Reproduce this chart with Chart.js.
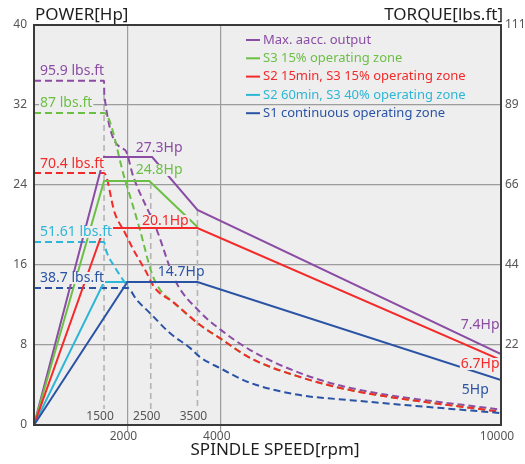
<!DOCTYPE html>
<html>
<head>
<meta charset="utf-8">
<script src="https://cdn.jsdelivr.net/npm/chart.js@4"></script>
<style>
  html, body { margin: 0; padding: 0; background: #fff; }
  #wrap { width: 525px; height: 464px; }
</style>
</head>
<body>
<div id="wrap"><canvas id="chartCanvas" width="525" height="464"></canvas></div>
<script>
// power curves (Hp over rpm)
const maxRpm = [0, 1500, 2530, 3500, 10000];
const maxHp  = [0, 26.8, 26.8, 21.5, 7.1];
const s3Rpm  = [0, 1500, 2470, 3500];
const s3Hp   = [0, 24.4, 24.4, 19.8];
const s2Rpm  = [0, 1500, 3500, 10000];
const s2Hp   = [0, 19.7, 19.7, 6.5];
const s60Rpm = [0, 1500, 2000];
const s60Hp  = [0, 14.3, 14.3];
const s1Rpm  = [0, 2000, 3500, 10000];
const s1Hp   = [0, 14.3, 14.3, 4.5];

// torque curves (lbs.ft over rpm)
const maxTqRpm = [0, 1500, 1505, 1950, 2130, 2630, 3020, 3550, 3980, 4630, 5700, 6770, 10000];
const maxTq    = [95.5, 95.5, 91.6, 76.3, 68.8, 54.1, 40.2, 31.4, 26.6, 20.8, 14.4, 10.3, 4.2];
const s3TqRpm  = [0, 1500, 1950, 2270, 2520, 2700, 2980, 3550, 3980, 4630, 5700, 6770, 10000];
const s3Tq     = [86.6, 86.6, 68.0, 54.1, 42.2, 37.5, 34.1, 27.8, 24.1, 18.6, 13.3, 9.7, 3.6];
const s2TqRpm  = [0, 1500, 1730, 1950, 2130, 2380, 2590, 2980, 3550, 3980, 4630, 5700, 6770, 10000];
const s2Tq     = [69.9, 69.9, 58.8, 53.3, 48.6, 43.0, 38.0, 34.1, 27.8, 24.1, 18.6, 13.3, 9.7, 3.6];
const s60TqRpm = [0, 1500, 1540, 1730, 1910, 2020];
const s60Tq    = [50.8, 50.8, 48.6, 43.8, 40.2, 38.0];
const s1TqRpm  = [0, 2000, 2200, 2480, 2910, 3340, 3550, 3980, 4630, 5700, 6770, 10000];
const s1Tq     = [38.0, 38.0, 34.7, 31.1, 25.5, 21.4, 18.9, 15.8, 11.7, 8.3, 6.9, 3.3];

// speed markers
const markRpm = [1500, 2500, 3500];
const markTop = [33.0, 24.2, 21.5];
const markBottom = 1.6;

// axes
const xTicks = [2000, 4000, 10000];
const tqTicks = [0, 22.2, 44.4, 66.6, 88.8, 111];
const tqTickLabels = ['', '22', '44', '66', '89', '111'];

// callouts
const noteTexts = ['95.9 lbs.ft', '87 lbs.ft', '70.4 lbs.ft', '51.61 lbs.ft', '38.7 lbs.ft',
                   '27.3Hp', '24.8Hp', '20.1Hp', '14.7Hp', '7.4Hp', '6.7Hp', '5Hp'];
const noteRpm = [130, 130, 130, 130, 130, 2180, 2180, 2310, 2650, 9140, 9140, 9160];
const noteHp  = [35.4, 32.2, 26.1, 19.3, 14.7, 27.7, 25.5, 20.4, 15.3, 10.0, 6.1, 3.5];

const C = { max: '#8b4ca3', s3: '#6cbf45', s2: '#f42a2a', s60: '#2eb6d6', s1: '#2a53a5' };
const noteColors = [C.max, C.s3, C.s2, C.s60, C.s1, C.max, C.s3, C.s2, C.s1, C.max, C.s2, C.s1];

const FONT = "'Noto Sans', sans-serif";
Chart.defaults.font.family = FONT;

function series(xs, ys) {
  return xs.map((x, i) => ({ x: x, y: ys[i] }));
}

function solid(label, color, xs, ys) {
  return { label, data: series(xs, ys), borderColor: color, borderWidth: 2,
           pointRadius: 0, tension: 0, yAxisID: 'y', fill: false };
}

function dashed(color, xs, ys) {
  return { label: '', data: series(xs, ys), borderColor: color, borderWidth: 2, borderDash: [7, 4],
           pointRadius: 0, cubicInterpolationMode: 'monotone', yAxisID: 'yT', fill: false };
}

const markSets = markRpm.map((r, i) => ({
  label: '', data: [{ x: r, y: markTop[i] }, { x: r, y: markBottom }],
  borderColor: '#b4b4b4', borderWidth: 1.6, borderDash: [6, 4], pointRadius: 0, yAxisID: 'y'
}));

// first dataset is painted on top
const datasets = [
  solid('S1 continuous operating zone', C.s1, s1Rpm, s1Hp),
  solid('S2 15min, S3 15% operating zone', C.s2, s2Rpm, s2Hp),
  solid('S2 60min, S3 40% operating zone', C.s60, s60Rpm, s60Hp),
  solid('S3 15% operating zone', C.s3, s3Rpm, s3Hp),
  solid('Max. aacc. output', C.max, maxRpm, maxHp),
  dashed(C.s1, s1TqRpm, s1Tq),
  dashed(C.s60, s60TqRpm, s60Tq),
  dashed(C.s2, s2TqRpm, s2Tq),
  dashed(C.s3, s3TqRpm, s3Tq),
  dashed(C.max, maxTqRpm, maxTq),
  ...markSets
];
const legendOrder = [4, 3, 1, 2, 0];

const decor = {
  id: 'decor',
  beforeDraw(chart) {
    const { ctx, chartArea: a } = chart;
    ctx.save();
    ctx.fillStyle = '#eeeeee';
    ctx.fillRect(a.left, a.top, a.right - a.left, a.bottom - a.top);
    ctx.restore();
  },
  afterDatasetsDraw(chart) {
    const { ctx, chartArea: a, scales } = chart;
    const sx = scales.x, sy = scales.y;
    ctx.save();
    ctx.textBaseline = 'middle';

    // speed marker labels
    ctx.font = '12px ' + FONT;
    ctx.fillStyle = '#555';
    ctx.textAlign = 'center';
    markRpm.forEach(r => ctx.fillText(String(r), sx.getPixelForValue(r) - 4, a.bottom - 8));

    // callouts
    ctx.font = '14px ' + FONT;
    ctx.textAlign = 'left';
    noteTexts.forEach((t, i) => {
      const x = sx.getPixelForValue(noteRpm[i]);
      const y = sy.getPixelForValue(noteHp[i]);
      const w = ctx.measureText(t).width;
      ctx.fillStyle = '#eeeeee';
      ctx.fillRect(x - 1, y - 6, w + 2, 12);
      ctx.fillStyle = noteColors[i];
      ctx.fillText(t, x, y);
    });

    // legend
    ctx.font = '13px ' + FONT;
    legendOrder.forEach((di, k) => {
      const ds = chart.data.datasets[di];
      const y = 40 + k * 18.3;
      ctx.strokeStyle = ds.borderColor;
      ctx.lineWidth = 2;
      ctx.beginPath();
      ctx.moveTo(246, y);
      ctx.lineTo(260, y);
      ctx.stroke();
      ctx.fillStyle = ds.borderColor;
      ctx.fillText(ds.label, 263, y);
    });

    // frame
    ctx.strokeStyle = '#3a3a3a';
    ctx.lineWidth = 2;
    ctx.strokeRect(a.left, a.top, a.right - a.left, a.bottom - a.top);

    // axis titles
    ctx.fillStyle = '#1e1e1e';
    ctx.font = '17px ' + FONT;
    ctx.textAlign = 'left';
    ctx.fillText('POWER[Hp]', 35, 15);
    ctx.textAlign = 'right';
    ctx.fillText('TORQUE[lbs.ft]', 503, 15);
    ctx.textAlign = 'center';
    ctx.fillText('SPINDLE SPEED[rpm]', 275, 450);
    ctx.restore();
  }
};

const gridGray = '#9c9c9c';

new Chart(document.getElementById('chartCanvas'), {
  type: 'line',
  data: { datasets },
  options: {
    responsive: false,
    animation: false,
    devicePixelRatio: 1,
    layout: { padding: { top: 25, left: 0, right: 0, bottom: 0 } },
    plugins: { legend: { display: false }, tooltip: { enabled: false } },
    scales: {
      x: {
        type: 'linear', min: 0, max: 10000,
        afterBuildTicks: s => { s.ticks = xTicks.map(v => ({ value: v })); },
        afterFit: s => { s.height = 39; },
        border: { display: false },
        grid: {
          color: c => (c.tick && c.tick.value === 10000 ? 'rgba(0,0,0,0)' : gridGray),
          tickColor: c => (c.tick && c.tick.value === 10000 ? 'rgba(0,0,0,0)' : gridGray),
          tickLength: 6, lineWidth: 1.2
        },
        ticks: { color: '#555', font: { size: 12 }, padding: -2, labelOffset: -4, maxRotation: 0,
                 callback: v => String(v) }
      },
      y: {
        position: 'left', min: 0, max: 40,
        afterFit: s => { s.width = 34; },
        border: { display: false },
        grid: { color: gridGray, lineWidth: 1.2, drawTicks: false },
        ticks: { stepSize: 8, color: '#555', font: { size: 12 }, padding: 7 }
      },
      yT: {
        position: 'right', min: 0, max: 111,
        afterFit: s => { s.width = 24; },
        afterBuildTicks: s => { s.ticks = tqTicks.map(v => ({ value: v })); },
        border: { display: false },
        grid: { display: false, drawTicks: false },
        ticks: { color: '#555', font: { size: 12 }, padding: 4,
                 callback: (v, i) => tqTickLabels[i] }
      }
    }
  },
  plugins: [decor]
});
</script>
</body>
</html>
